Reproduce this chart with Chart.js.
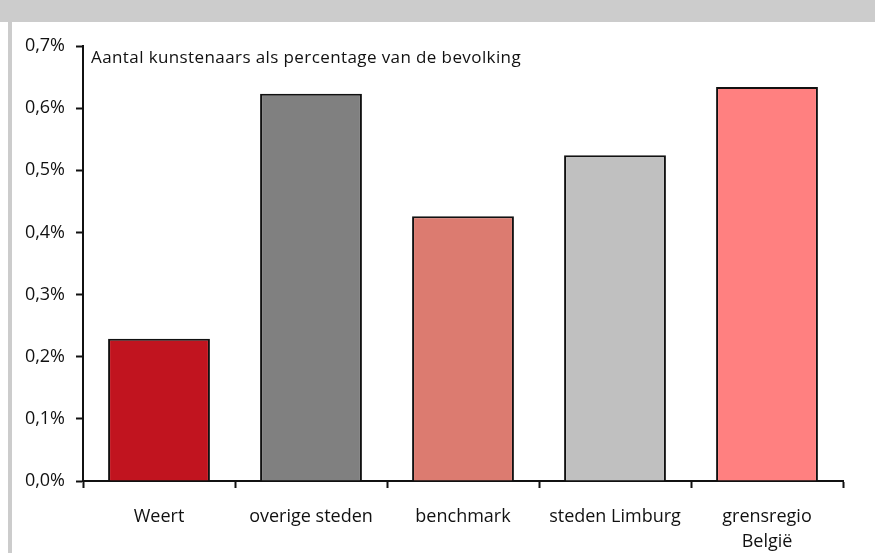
<!DOCTYPE html>
<html>
<head>
<meta charset="utf-8">
<script src="https://cdn.jsdelivr.net/npm/chart.js@4"></script>
<style>
  html, body { margin: 0; padding: 0; background: #fff; }
  #wrap { width: 875px; height: 553px; }
</style>
</head>
<body>
<div id="wrap"><canvas id="myChart" width="875" height="553"></canvas></div>
<script>
const categories = ['Weert', 'overige steden', 'benchmark', 'steden Limburg', ['grensregio', 'België']];
const values = [0.229, 0.623, 0.426, 0.524, 0.634];
const barColors = ['#C1141F', '#808080', '#DC7B70', '#C0C0C0', '#FF8080'];
const chartTitle = 'Aantal kunstenaars als percentage van de bevolking';

const fontFamily = '"Open Sans", "DejaVu Sans", sans-serif';

// grey frame + inline title
const framePlugin = {
  id: 'frame',
  beforeDraw(chart) {
    const ctx = chart.ctx;
    ctx.save();
    ctx.fillStyle = '#fff';
    ctx.fillRect(0, 0, chart.width, chart.height);
    ctx.fillStyle = '#CCCCCC';
    ctx.fillRect(0, 0, chart.width, 22);
    ctx.fillRect(8, 22, 4, chart.height - 22);
    ctx.restore();
  },
  afterDraw(chart) {
    const ctx = chart.ctx;
    const area = chart.chartArea;
    ctx.save();
    ctx.fillStyle = '#111';
    ctx.font = '17px ' + fontFamily;
    ctx.letterSpacing = '0.4px';
    ctx.textBaseline = 'middle';
    ctx.fillText(chartTitle, area.left + 8, area.top + 12);
    ctx.restore();
  }
};

new Chart(document.getElementById('myChart'), {
  type: 'bar',
  data: {
    labels: categories,
    datasets: [{
      data: values,
      backgroundColor: barColors,
      borderColor: '#111',
      borderWidth: 2,
      borderSkipped: 'bottom',
      barPercentage: 0.67,
      categoryPercentage: 1
    }]
  },
  options: {
    responsive: false,
    animation: false,
    events: [],
    layout: { padding: { left: 0, top: 46, right: 32, bottom: 0 } },
    plugins: {
      legend: { display: false },
      tooltip: { enabled: false }
    },
    scales: {
      y: {
        min: 0,
        max: 0.7,
        afterFit: (scale) => { scale.width = 83; },
        ticks: {
          stepSize: 0.1,
          padding: 11,
          color: '#111',
          font: { family: fontFamily, size: 18 },
          callback: (v) => v.toFixed(1).replace('.', ',') + '%'
        },
        grid: {
          drawOnChartArea: false,
          tickLength: 7,
          tickColor: '#111',
          tickWidth: 2
        },
        border: { color: '#111', width: 2 }
      },
      x: {
        afterFit: (scale) => { scale.height = 72; },
        ticks: {
          padding: 16,
          color: '#111',
          font: { family: fontFamily, size: 18, lineHeight: 1.4 }
        },
        grid: {
          offset: true,
          drawOnChartArea: false,
          tickLength: 7,
          tickColor: '#111',
          tickWidth: 2
        },
        border: { color: '#111', width: 2 }
      }
    }
  },
  plugins: [framePlugin]
});
</script>
</body>
</html>
